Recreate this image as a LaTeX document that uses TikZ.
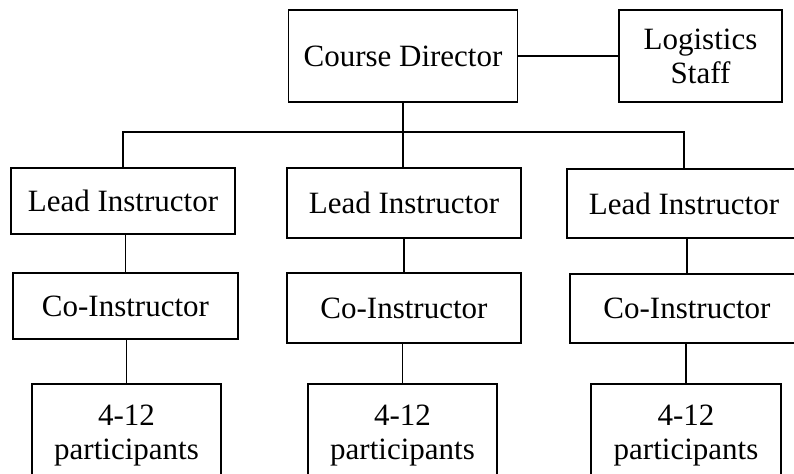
\documentclass[tikz,border=0pt]{standalone}
\usepackage{fontspec}
\setmainfont{Liberation Serif}
\begin{document}
\begin{tikzpicture}[x=0.5pt, y=-0.5pt,
    box/.style={draw, line width=0.65pt, align=center, inner sep=0pt,
        font=\fontsize{15.5}{17}\selectfont},
    link/.style={line width=0.65pt}]
    \useasboundingbox (0,0) rectangle (794,474);
    \clip (0,0) rectangle (794,474);

    % Top level
    \node[box, minimum width=114.5pt, minimum height=46pt] (director) at (403,56) {Course Director};
    \node[box, minimum width=81.5pt, minimum height=46pt] (logistics) at (700.5,56) {Logistics\\Staff};
    \draw[link] (director) -- (logistics);

    % Lead instructors
    \node[box, minimum width=112pt, minimum height=33pt] (lead1) at (123,201) {Lead Instructor};
    \node[box, minimum width=117pt, minimum height=35pt] (lead2) at (404,203) {Lead Instructor};
    \node[box, minimum width=117pt, minimum height=34.5pt] (lead3) at (684,203.5) {Lead Instructor};
    \coordinate (branch) at (403,132);
    \draw[link] (director.south) -- (branch);
    \draw[link] (lead1.north) |- (lead3.north |- branch) -- (lead3.north);
    \draw[link] (branch) -- (branch |- lead2.north);

    % Co-instructors
    \node[box, minimum width=112.5pt, minimum height=33pt] (co1) at (125.5,306) {Co-Instructor};
    \node[box, minimum width=117pt, minimum height=35pt] (co2) at (404,308) {Co-Instructor};
    \node[box, minimum width=117pt, minimum height=34.5pt] (co3) at (687,308.5) {Co-Instructor};
    \draw[link] (co1.north) -- (co1.north |- lead1.south);
    \draw[link] (co2.north) -- (co2.north |- lead2.south);
    \draw[link] (co3.north) -- (co3.north |- lead3.south);

    % Participant groups
    \node[box, minimum width=94.5pt, minimum height=52pt] (group1) at (126.5,436) {4-12\\participants};
    \node[box, minimum width=94.5pt, minimum height=52pt] (group2) at (402.5,436) {4-12\\participants};
    \node[box, minimum width=95pt, minimum height=52pt] (group3) at (686,436) {4-12\\participants};
    \draw[link] (group1.north) -- (group1.north |- co1.south);
    \draw[link] (group2.north) -- (group2.north |- co2.south);
    \draw[link] (group3.north) -- (group3.north |- co3.south);
\end{tikzpicture}
\end{document}
